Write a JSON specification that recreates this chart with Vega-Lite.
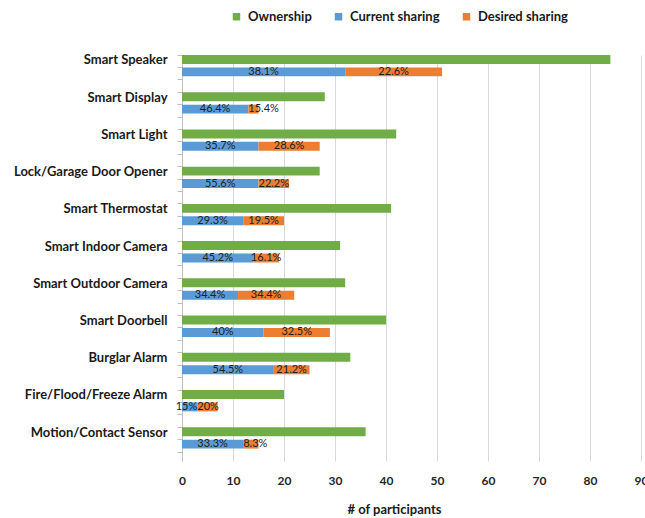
{
  "$schema": "https://vega.github.io/schema/vega-lite/v6.json",
  "width": 459,
  "height": 406,
  "autosize": {"type": "none"},
  "padding": {"left": 182, "top": 55, "right": 4, "bottom": 57},
  "background": "white",
  "config": {"view": {"stroke": null}, "font": "Lato"},
  "data": {
    "values": [
      {"row": "Smart Speaker|1", "series": "Ownership", "value": 84, "label": ""},
      {"row": "Smart Speaker|2", "series": "Current sharing", "value": 32, "label": "38.1%"},
      {"row": "Smart Speaker|2", "series": "Desired sharing", "value": 19, "label": "22.6%"},
      {"row": "Smart Display|1", "series": "Ownership", "value": 28, "label": ""},
      {"row": "Smart Display|2", "series": "Current sharing", "value": 13, "label": "46.4%"},
      {"row": "Smart Display|2", "series": "Desired sharing", "value": 2, "label": "15.4%"},
      {"row": "Smart Light\u00a0|1", "series": "Ownership", "value": 42, "label": ""},
      {"row": "Smart Light\u00a0|2", "series": "Current sharing", "value": 15, "label": "35.7%"},
      {"row": "Smart Light\u00a0|2", "series": "Desired sharing", "value": 12, "label": "28.6%"},
      {"row": "Lock/Garage Door Opener|1", "series": "Ownership", "value": 27, "label": ""},
      {"row": "Lock/Garage Door Opener|2", "series": "Current sharing", "value": 15, "label": "55.6%"},
      {"row": "Lock/Garage Door Opener|2", "series": "Desired sharing", "value": 6, "label": "22.2%"},
      {"row": "Smart Thermostat|1", "series": "Ownership", "value": 41, "label": ""},
      {"row": "Smart Thermostat|2", "series": "Current sharing", "value": 12, "label": "29.3%"},
      {"row": "Smart Thermostat|2", "series": "Desired sharing", "value": 8, "label": "19.5%"},
      {"row": "Smart Indoor Camera|1", "series": "Ownership", "value": 31, "label": ""},
      {"row": "Smart Indoor Camera|2", "series": "Current sharing", "value": 14, "label": "45.2%"},
      {"row": "Smart Indoor Camera|2", "series": "Desired sharing", "value": 5, "label": "16.1%"},
      {"row": "Smart Outdoor Camera|1", "series": "Ownership", "value": 32, "label": ""},
      {"row": "Smart Outdoor Camera|2", "series": "Current sharing", "value": 11, "label": "34.4%"},
      {"row": "Smart Outdoor Camera|2", "series": "Desired sharing", "value": 11, "label": "34.4%"},
      {"row": "Smart Doorbell|1", "series": "Ownership", "value": 40, "label": ""},
      {"row": "Smart Doorbell|2", "series": "Current sharing", "value": 16, "label": "40%"},
      {"row": "Smart Doorbell|2", "series": "Desired sharing", "value": 13, "label": "32.5%"},
      {"row": "Burglar Alarm|1", "series": "Ownership", "value": 33, "label": ""},
      {"row": "Burglar Alarm|2", "series": "Current sharing", "value": 18, "label": "54.5%"},
      {"row": "Burglar Alarm|2", "series": "Desired sharing", "value": 7, "label": "21.2%"},
      {"row": "Fire/Flood/Freeze Alarm|1", "series": "Ownership", "value": 20, "label": ""},
      {"row": "Fire/Flood/Freeze Alarm|2", "series": "Current sharing", "value": 3, "label": "15%"},
      {"row": "Fire/Flood/Freeze Alarm|2", "series": "Desired sharing", "value": 4, "label": "20%"},
      {"row": "Motion/Contact Sensor|1", "series": "Ownership", "value": 36, "label": ""},
      {"row": "Motion/Contact Sensor|2", "series": "Current sharing", "value": 12, "label": "33.3%"},
      {"row": "Motion/Contact Sensor|2", "series": "Desired sharing", "value": 3, "label": "8.3%"}
    ]
  },
  "encoding": {
    "y": {
      "field": "row",
      "type": "nominal",
      "scale": {
        "domain": [
          "Smart Speaker|1", "Smart Speaker|2", "Smart Speaker|3",
          "Smart Display|1", "Smart Display|2", "Smart Display|3",
          "Smart Light\u00a0|1", "Smart Light\u00a0|2", "Smart Light\u00a0|3",
          "Lock/Garage Door Opener|1", "Lock/Garage Door Opener|2", "Lock/Garage Door Opener|3",
          "Smart Thermostat|1", "Smart Thermostat|2", "Smart Thermostat|3",
          "Smart Indoor Camera|1", "Smart Indoor Camera|2", "Smart Indoor Camera|3",
          "Smart Outdoor Camera|1", "Smart Outdoor Camera|2", "Smart Outdoor Camera|3",
          "Smart Doorbell|1", "Smart Doorbell|2", "Smart Doorbell|3",
          "Burglar Alarm|1", "Burglar Alarm|2", "Burglar Alarm|3",
          "Fire/Flood/Freeze Alarm|1", "Fire/Flood/Freeze Alarm|2", "Fire/Flood/Freeze Alarm|3",
          "Motion/Contact Sensor|1", "Motion/Contact Sensor|2", "Motion/Contact Sensor|3"
        ],
        "paddingInner": 0.28,
        "paddingOuter": 0
      },
      "axis": {
        "title": null,
        "bandPosition": 0,
        "labelExpr": "indexof(datum.value, '|1') > 0 ? replace(datum.value, '|1', '') : ''",
        "labelOffset": 1,
        "labelFont": "Lato",
        "labelFontWeight": "bold",
        "labelFontSize": 13,
        "labelColor": "#1a1a1a",
        "labelPadding": 10,
        "labelOverlap": false,
        "labelLimit": 0,
        "tickSize": 5,
        "tickColor": "#bfbfbf",
        "domainColor": "#bfbfbf",
        "grid": false
      }
    },
    "order": {"field": "series", "sort": "ascending"}
  },
  "layer": [
    {
      "mark": {"type": "bar"},
      "encoding": {
        "x": {
          "field": "value",
          "type": "quantitative",
          "stack": "zero",
          "scale": {"domain": [0, 90], "nice": false},
          "axis": {
            "values": [0, 10, 20, 30, 40, 50, 60, 70, 80, 90],
            "grid": true,
            "gridColor": "#d9d9d9",
            "domain": false,
            "ticks": false,
            "labelFlush": false,
            "labelFont": "Lato",
            "labelFontWeight": "bold",
            "labelFontSize": 12,
            "labelColor": "#262626",
            "labelPadding": 14,
            "title": "# of participants",
            "titleFont": "Lato",
            "titleFontSize": 13,
            "titleFontWeight": "bold",
            "titleColor": "#1a1a1a",
            "titleX": 212,
            "titleY": 48,
            "titleAlign": "center",
            "titleBaseline": "middle"
          }
        },
        "color": {
          "field": "series",
          "type": "nominal",
          "scale": {
            "domain": ["Ownership", "Current sharing", "Desired sharing"],
            "range": ["#70AD47", "#5B9BD5", "#ED7D31"]
          },
          "legend": {
            "title": null,
            "orient": "none",
            "legendX": 48,
            "legendY": -45,
            "direction": "horizontal",
            "symbolType": "square",
            "symbolSize": 56,
            "symbolStrokeWidth": 0,
            "labelFont": "Lato",
            "labelFontWeight": "bold",
            "labelFontSize": 13,
            "labelColor": "#1a1a1a",
            "labelOffset": 5,
            "columnPadding": 20,
            "padding": 0
          }
        }
      }
    },
    {
      "mark": {"type": "text", "font": "Lato", "fontSize": 11, "color": "#222222", "baseline": "middle", "align": "center"},
      "encoding": {
        "x": {"field": "value", "type": "quantitative", "stack": "zero", "bandPosition": 0.5, "title": "# of participants"},
        "detail": {"field": "series"},
        "text": {"condition": {"test": "datum.value > 4", "field": "label"}, "value": ""}
      }
    },
    {
      "mark": {"type": "text", "font": "Lato", "fontSize": 11, "color": "#222222", "baseline": "middle", "align": "left"},
      "encoding": {
        "x": {"field": "value", "type": "quantitative", "stack": "zero", "bandPosition": 0, "title": "# of participants"},
        "detail": {"field": "series"},
        "text": {"condition": {"test": "datum.value <= 4 && datum.series === 'Desired sharing'", "field": "label"}, "value": ""}
      }
    },
    {
      "mark": {"type": "text", "font": "Lato", "fontSize": 11, "color": "#222222", "baseline": "middle", "align": "right"},
      "encoding": {
        "x": {"field": "value", "type": "quantitative", "stack": "zero", "bandPosition": 1, "title": "# of participants"},
        "detail": {"field": "series"},
        "text": {"condition": {"test": "datum.value <= 4 && datum.series === 'Current sharing'", "field": "label"}, "value": ""}
      }
    }
  ]
}
